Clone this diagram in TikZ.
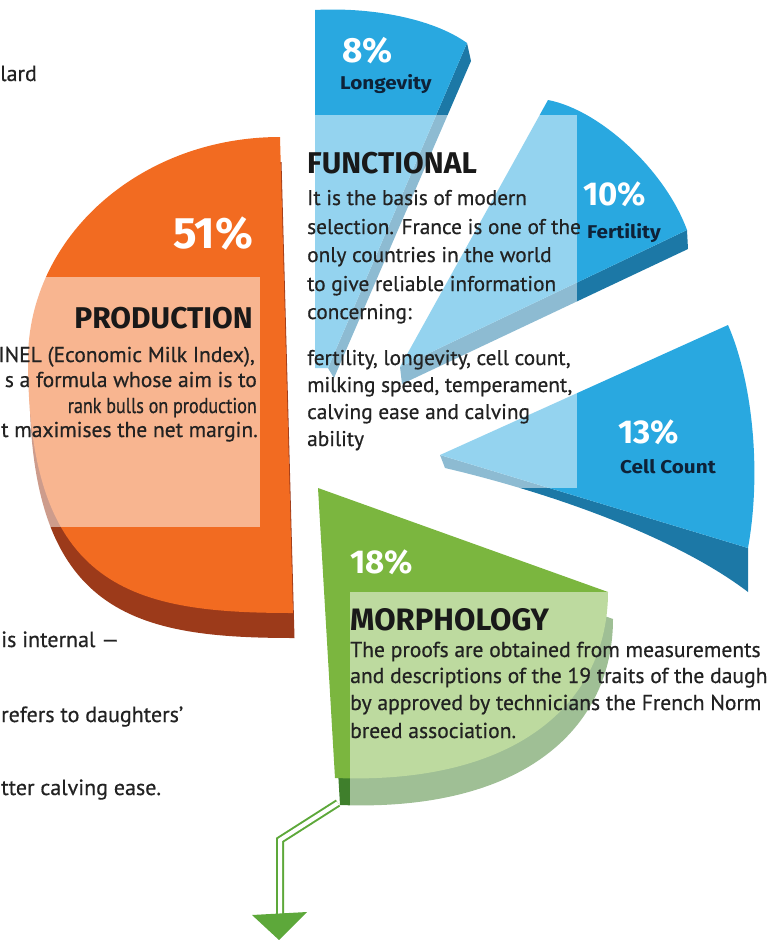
\documentclass[tikz,border=0pt]{standalone}
\usepackage{fontspec}
\setmainfont{PT Sans}
\newfontfamily\bodyfont{PT Sans}[FakeBold=0.6]
\newfontfamily\headfont{Fira Sans}
\newfontfamily\labfont{Fira Sans}[FakeStretch=1.12]
\definecolor{orangeface}{HTML}{F26B21}
\definecolor{brownband}{HTML}{9C3A1A}
\definecolor{blueface}{HTML}{29A8E0}
\definecolor{blueside}{HTML}{1C78A6}
\definecolor{greenface}{HTML}{7BB63F}
\definecolor{greenband}{HTML}{3F7F2C}
\definecolor{arrowgreen}{HTML}{5DA83A}
\definecolor{txt}{HTML}{222222}
\definecolor{navy}{HTML}{0E2238}
\begin{document}
\begin{tikzpicture}[x=1pt,y=-1pt,
  overlay box/.style={fill=white,fill opacity=0.5},
  bodyL/.style={font=\bodyfont\fontsize{21.5}{25}\selectfont,text=txt,inner sep=0pt},
  bodyF/.style={font=\bodyfont\fontsize{21.3}{28}\selectfont,text=txt,inner sep=0pt,anchor=base west},
  bodyM/.style={font=\bodyfont\fontsize{21.6}{27}\selectfont,text=txt,inner sep=0pt,anchor=base west},
  heading/.style={font=\headfont\bfseries\fontsize{30}{32}\selectfont,text=black!90,inner sep=0pt},
  pct/.style={font=\headfont\bfseries\fontsize{33}{35}\selectfont,text=white,inner sep=0pt,anchor=base west},
  lab/.style={font=\labfont\bfseries\fontsize{18.5}{20}\selectfont,text=navy,inner sep=0pt,anchor=base west},
  connector/.style={draw=arrowgreen,line width=2pt,double=white,double distance=4pt,line join=miter}
]
\useasboundingbox (0,0) rectangle (768,940);

% ---------- Production (orange) ----------
\def\orangepath{(280,137) .. controls (140,137) and (28,237) .. (28,360)
   .. controls (28,590) and (134,613) .. (293,613) -- cycle}
\fill[brownband,shift={(1.5,25)}] \orangepath;
\fill[orangeface] \orangepath;

% ---------- Longevity ----------
\fill[blueside] (467,43) -- (471,61) -- (334,378) -- (328,368) -- cycle;
\fill[blueface] (315,10) .. controls (370,7) and (432,18) .. (467,43) -- (328,368) -- (315,368) -- cycle;

% ---------- Fertility ----------
\fill[blueside] (687,230) -- (688,249) -- (402,384) -- (400,367) -- cycle;
\fill[blueface] (548,100) .. controls (600,110) and (665,170) .. (687,230) -- (400,367) -- cycle;

% ---------- Cell count ----------
\fill[blueside] (440,455) -- (748,548) -- (748,592) .. controls (680,540) and (560,495) .. (445,468) -- cycle;
\fill[blueface] (440,455) -- (728,325) .. controls (752,380) and (762,470) .. (748,548) -- cycle;

% ---------- Morphology (green) ----------
\def\greenpath{(318,488) -- (608,592) .. controls (608,700) and (520,785) .. (335,778) -- cycle}
\fill[greenband,shift={(5,27)}] \greenpath;
\fill[greenface] \greenpath;

% ---------- translucent panels ----------
\fill[overlay box] (0,277) rectangle (260,527);
\fill[overlay box] (315,115) rectangle (577,488);
\fill[overlay box] (350,592) rectangle (680,850);

% ---------- connector arrow ----------
\coordinate (gbot) at (338,803);
\coordinate (bend) at (280,840);
\coordinate (aend) at (280,914);
\draw[connector] (gbot) -- (bend) -- (aend);
\fill[arrowgreen] (252,915) -- (307,912) -- (279,940) -- cycle;

% ---------- percentages and labels ----------
\node[pct,font=\headfont\bfseries\fontsize{44}{46}\selectfont,anchor=base east] (p51) at (253,248) {51\%};
\node[pct,font=\headfont\bfseries\fontsize{35}{37}\selectfont] (p8) at (342,62) {8\%};
\node[lab] (llong) at (340,89) {Longevity};
\node[pct] (p10) at (583,205) {10\%};
\node[lab] (lfert) at (587,238) {Fertility};
\node[pct] (p13) at (618,443) {13\%};
\node[lab] (lcell) at (620,473) {Cell Count};
\node[pct] (p18) at (350,573) {18\%};

% ---------- headings ----------
\node[heading,anchor=base east] (hprod) at (253,328) {PRODUCTION};
\node[heading,anchor=base west] (hfunc) at (307,173) {FUNCTIONAL};
\node[heading,anchor=base west,font=\headfont\bfseries\fontsize{31}{33}\selectfont] (hmorph) at (350,630) {MORPHOLOGY};

% ---------- production text ----------
\node[bodyL,anchor=base east] (pr1) at (255,362) {INEL (Economic Milk Index),};
\node[bodyL,anchor=base east] (pr2) at (257,387) {s a formula whose aim is to};
\node[bodyL,anchor=base east] (pr3) at (257,413) {\scalebox{0.84}[1]{rank bulls on production}};
\node[bodyL,anchor=base east] (pr4) at (258,437) {t maximises the net margin.};

% ---------- left fragments ----------
\node[bodyL,anchor=base west,font=\bodyfont\fontsize{22}{25}\selectfont] (l0) at (0,81) {lard};
\node[bodyL,anchor=base west,font=\bodyfont\fontsize{22}{25}\selectfont] (l1) at (1,647) {is internal —};
\node[bodyL,anchor=base west,font=\bodyfont\fontsize{22}{25}\selectfont] (l2) at (1,722) {refers to daughters’};
\node[bodyL,anchor=base west,font=\bodyfont\fontsize{22}{25}\selectfont] (l3) at (1,795) {tter calving ease.};

% ---------- functional text ----------
\node[bodyF] (f1) at (307,205) {It is the basis of modern};
\node[bodyF] (f2) at (307,234) {selection. France is one of the};
\node[bodyF] (f3) at (307,262) {only countries in the world};
\node[bodyF] (f4) at (307,291) {to give reliable information};
\node[bodyF] (f5) at (307,319) {concerning:};
\node[bodyF] (f6) at (307,365) {fertility, longevity, cell count,};
\node[bodyF] (f7) at (307,392) {milking speed, temperament,};
\node[bodyF] (f8) at (307,419) {calving ease and calving};
\node[bodyF] (f9) at (307,446) {ability};

% ---------- morphology text ----------
\node[bodyM] (m1) at (350,657) {The proofs are obtained from measurements};
\node[bodyM] (m2) at (350,683) {and descriptions of the 19 traits of the daugh};
\node[bodyM] (m3) at (350,710) {by approved by technicians the French Norm};
\node[bodyM] (m4) at (350,738) {breed association.};
\end{tikzpicture}
\end{document}
